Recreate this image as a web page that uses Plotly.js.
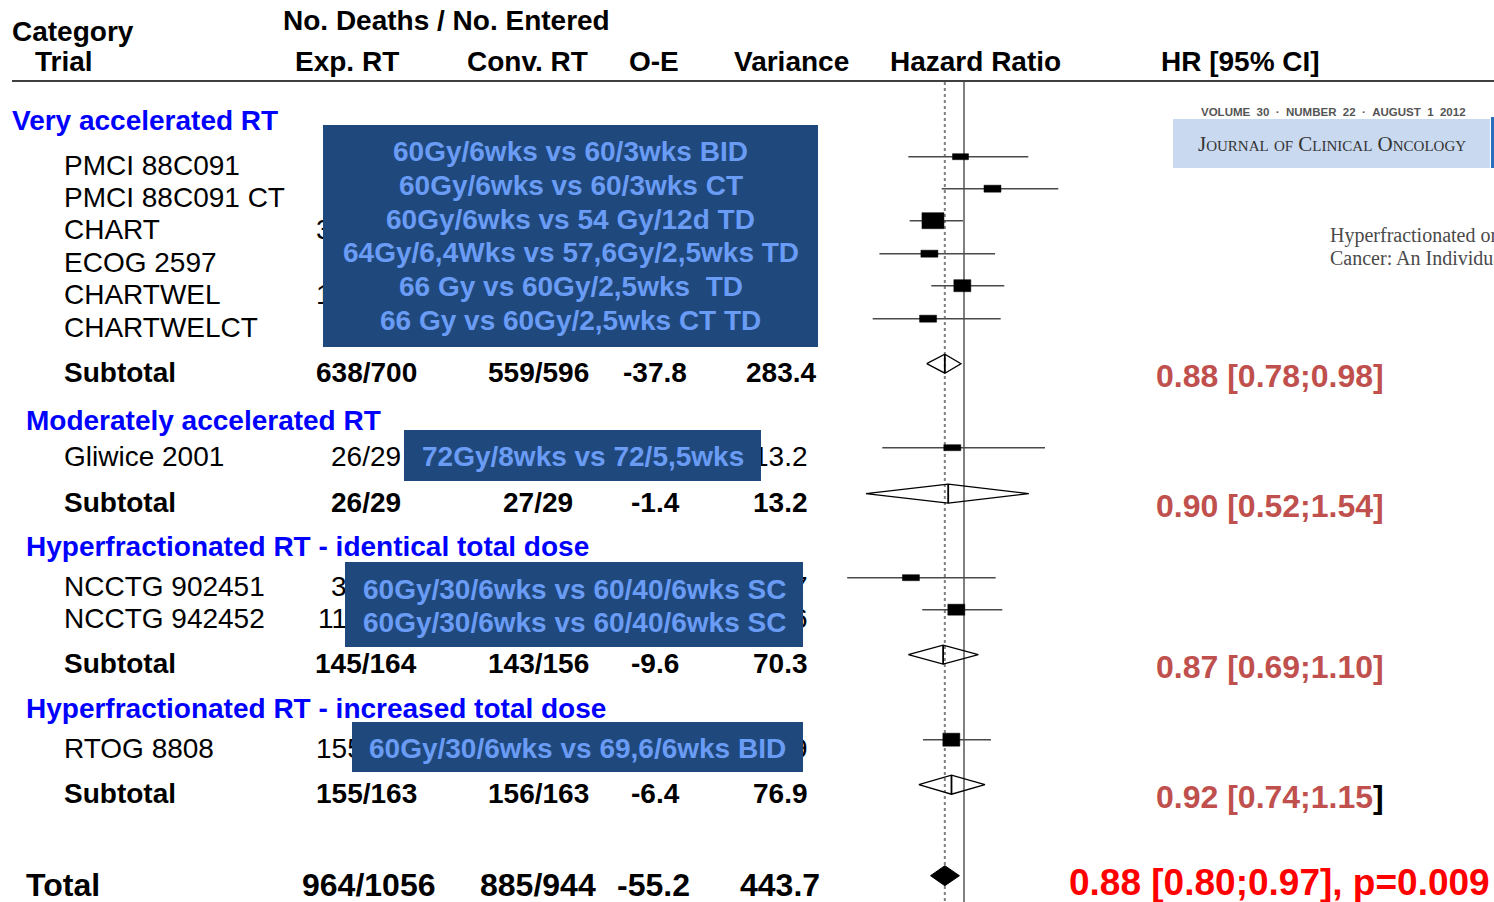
<!DOCTYPE html>
<html>
<head>
<meta charset="utf-8">
<script src="https://cdn.plot.ly/plotly-3.0.1.min.js"></script>
<style>
  html, body { margin: 0; padding: 0; background: #ffffff; overflow: hidden; }
  #chart { width: 1494px; height: 902px; }
</style>
</head>
<body>
<div id="chart"></div>
<script>
// ---------------- data ----------------
const trialNames = ["PMCI 88C091", "PMCI 88C091 CT", "CHART", "ECOG 2597", "CHARTWEL", "CHARTWELCT",
                    "Gliwice 2001", "NCCTG 902451", "NCCTG 942452", "RTOG 8808"];
const trialGroup = [0, 0, 0, 0, 0, 0, 1, 2, 2, 3];
const trialExp   = ["24/27", "25/28", "310/338", "54/60", "155/167", "70/80", "26/29", "34/41", "111/123", "155/163"];
const trialConv  = ["24/26", "25/27", "210/225", "53/59", "170/180", "77/79", "27/29", "32/38", "111/118", "156/163"];
const trialOE    = ["-0.4", "4.9", "-27.6", "-5.7", "-3.6", "-5.4", "-1.4", "-4.1", "-5.5", "-6.4"];
const trialVar   = ["24.3", "25.1", "121.6", "25.6", "65.4", "21.4", "13.2", "14.7", "55.6", "76.9"];
const trialHR    = [0.977, 1.209, 0.813, 0.794, 0.989, 0.787, 0.925, 0.702, 0.950, 0.919];
const trialLo    = [0.690, 0.862, 0.696, 0.569, 0.804, 0.544, 0.580, 0.459, 0.757, 0.761];
const trialHi    = [1.535, 1.875, 0.993, 1.230, 1.308, 1.277, 1.716, 1.235, 1.291, 1.197];

const groupNames = ["Very accelerated RT", "Moderately accelerated RT",
                    "Hyperfractionated RT - identical total dose", "Hyperfractionated RT - increased total dose"];
const groupExp  = ["638/700", "26/29", "145/164", "155/163"];
const groupConv = ["559/596", "27/29", "143/156", "156/163"];
const groupOE   = ["-37.8", "-1.4", "-9.6", "-6.4"];
const groupVar  = ["283.4", "13.2", "70.3", "76.9"];
const groupHR   = [0.88, 0.90, 0.87, 0.92];
const groupLo   = [0.78, 0.52, 0.69, 0.74];
const groupHi   = [0.98, 1.54, 1.10, 1.15];

const totalExp = "964/1056", totalConv = "885/944", totalOE = "-55.2", totalVar = "443.7";
const totalHR = 0.88, totalLo = 0.80, totalHi = 0.97, totalP = "0.009";

// fractionation schedules compared in each group
const schedules = [
  ["60Gy/6wks vs 60/3wks BID", "60Gy/6wks vs 60/3wks CT", "60Gy/6wks vs 54 Gy/12d TD",
   "64Gy/6,4Wks vs 57,6Gy/2,5wks TD", "66 Gy vs 60Gy/2,5wks  TD", "66 Gy vs 60Gy/2,5wks CT TD"],
  ["72Gy/8wks vs 72/5,5wks"],
  ["60Gy/30/6wks vs 60/40/6wks SC", "60Gy/30/6wks vs 60/40/6wks SC"],
  ["60Gy/30/6wks vs 69,6/6wks BID"]
];

// ---------------- layout geometry (pixels) ----------------
const W = 1494, H = 902;
const FONT = '"Liberation Sans", Arial, Helvetica, sans-serif';
const SERIF = '"Liberation Serif", "Times New Roman", serif';
const PX_PER_LN = 150, HR1_PX = 964, FOREST_L = 840, FOREST_R = 1100;
const xRange = [(FOREST_L - HR1_PX) / PX_PER_LN / Math.LN10, (FOREST_R - HR1_PX) / PX_PER_LN / Math.LN10];

const groupHeadY = [120, 420, 546, 708];
const groupHeadX = [12, 26, 26, 26];
const trialTextY = [165, 197, 229, 262, 294, 327, 456, 586, 618, 748];
const subTextY   = [372, 502, 663, 793];
const totalTextY = 885;
const MARK_SHIFT = 8.3;           // marks sit slightly above the text centre line
const DH = 9.5;                   // diamond half height
const boxPx = [[16, 6], [17, 7], [22, 16], [17, 7], [17, 12], [17, 7], [17, 6], [17, 6], [17, 11], [17, 13]];
const COL = { exp: 366, conv: 538, oe: 655, vari: 781 };
const overlayBoxes = [
  { x0: 323, x1: 818, y0: 125, y1: 347, lineY: [151, 185, 219, 252, 286, 320] },
  { x0: 404, x1: 761, y0: 430, y1: 481, lineY: [456] },
  { x0: 345, x1: 803, y0: 562, y1: 647, lineY: [589, 622] },
  { x0: 352, x1: 803, y0: 722, y1: 772, lineY: [748] }
];

// ---------------- traces ----------------
const traces = [];
const line = (x, y, color, width, dash) => ({
  x, y, type: 'scatter', mode: 'lines', hoverinfo: 'skip', showlegend: false,
  line: { color, width, dash: dash || 'solid' }
});

// no-effect line and overall effect line
traces.push(line([1, 1], [82, H], '#808080', 2));
traces.push(line([totalHR, totalHR], [82, H], '#808080', 2, '3px,3px'));

// confidence intervals of individual trials
const ciX = [], ciY = [];
trialNames.forEach((t, i) => {
  const y = trialTextY[i] - MARK_SHIFT;
  ciX.push(trialLo[i], trialHi[i], null);
  ciY.push(y, y, null);
});
traces.push(line(ciX, ciY, '#4a4a4a', 1.4));

// trial weight boxes, centred on each hazard ratio (half width given in screen pixels)
trialNames.forEach((t, i) => {
  const y = trialTextY[i] - MARK_SHIFT;
  const [bw, bh] = boxPx[i];
  const f = Math.exp(bw / 2 / PX_PER_LN);
  const a = trialHR[i] / f, b = trialHR[i] * f;
  const r = line([a, b, b, a, a], [y - bh / 2, y - bh / 2, y + bh / 2, y + bh / 2, y - bh / 2], '#000000', 0.5);
  r.fill = 'toself';
  r.fillcolor = '#000000';
  traces.push(r);
});

// subtotal diamonds (open)
groupNames.forEach((g, i) => {
  const y = subTextY[i] - MARK_SHIFT;
  traces.push(line([groupLo[i], groupHR[i], groupHi[i], groupHR[i], groupLo[i]],
                   [y, y - DH, y, y + DH, y], '#000000', 1.3));
  traces.push(line([groupHR[i], groupHR[i]], [y - DH, y + DH], '#000000', 1.8));
});

// overall diamond (filled)
{
  const y = totalTextY - MARK_SHIFT - 1;
  const t = line([totalLo, totalHR, totalHi, totalHR, totalLo], [y, y - 10, y, y + 10, y], '#000000', 1);
  t.fill = 'toself';
  t.fillcolor = '#000000';
  traces.push(t);
}

// ---------------- shapes ----------------
const shapes = [];
// header rule
shapes.push({ type: 'line', xref: 'paper', yref: 'y', x0: 12 / W, x1: 1, y0: 81, y1: 81,
              line: { color: '#000000', width: 1.5 } });
// journal banner
shapes.push({ type: 'rect', xref: 'paper', yref: 'y', x0: 1173 / W, x1: 1490 / W, y0: 119, y1: 168,
              fillcolor: '#c9d9ef', line: { width: 0 }, layer: 'below' });
shapes.push({ type: 'rect', xref: 'paper', yref: 'y', x0: 1491 / W, x1: 1, y0: 117, y1: 168,
              fillcolor: '#2a6ebb', line: { width: 0 }, layer: 'below' });

// ---------------- text ----------------
const ann = [];
function txt(x, y, text, o = {}) {
  ann.push({
    xref: 'paper', yref: 'y', x: x / W, y, text, showarrow: false,
    xanchor: o.anchor || 'left', yanchor: 'middle', borderpad: 0, borderwidth: 0,
    font: { family: o.family || FONT, size: o.size || 28, color: o.color || '#000000',
            weight: o.weight || 'normal', variant: o.variant || 'normal' }
  });
}
const B = { weight: 'bold' };

// column headers
txt(12, 31, 'Category', B);
txt(35, 61, 'Trial', B);
txt(446, 20, 'No. Deaths / No. Entered', { weight: 'bold', anchor: 'center' });
txt(347, 61, 'Exp. RT', { weight: 'bold', anchor: 'center' });
txt(527, 61, 'Conv. RT', { weight: 'bold', anchor: 'center' });
txt(654, 61, 'O-E', { weight: 'bold', anchor: 'center' });
txt(791, 61, 'Variance', { weight: 'bold', anchor: 'center' });
txt(975, 61, 'Hazard Ratio', { weight: 'bold', anchor: 'center' });
txt(1240, 61, 'HR [95% CI]', { weight: 'bold', anchor: 'center' });

// group headers
groupNames.forEach((g, i) => txt(groupHeadX[i], groupHeadY[i], g, { weight: 'bold', color: '#0000ff' }));

// trial rows
trialNames.forEach((t, i) => {
  const y = trialTextY[i];
  txt(64, y, t);
  txt(COL.exp, y, trialExp[i], { anchor: 'center' });
  txt(COL.conv, y, trialConv[i], { anchor: 'center' });
  txt(COL.oe, y, trialOE[i], { anchor: 'center' });
  txt(COL.vari, y, trialVar[i], { anchor: 'center' });
});

// subtotal rows
const hrLabel = (hr, lo, hi) => hr.toFixed(2) + ' [' + lo.toFixed(2) + ';' + hi.toFixed(2) + ']';
groupNames.forEach((g, i) => {
  const y = subTextY[i];
  txt(64, y, 'Subtotal', B);
  txt(COL.exp, y, groupExp[i], { weight: 'bold', anchor: 'center' });
  txt(COL.conv, y, groupConv[i], { weight: 'bold', anchor: 'center' });
  txt(COL.oe, y, groupOE[i], { weight: 'bold', anchor: 'center' });
  txt(COL.vari, y, groupVar[i], { weight: 'bold', anchor: 'center' });
  let lbl = hrLabel(groupHR[i], groupLo[i], groupHi[i]);
  if (i === 3) lbl = lbl.slice(0, -1) + '<span style="color:#000000">]</span>';
  txt(1384, y + 4, lbl, { weight: 'bold', anchor: 'right', size: 32, color: '#c0504d' });
});

// total row
txt(26, totalTextY, 'Total', { weight: 'bold', size: 32 });
txt(368, totalTextY, totalExp, { weight: 'bold', size: 32, anchor: 'center' });
txt(538, totalTextY, totalConv, { weight: 'bold', size: 32, anchor: 'center' });
txt(653, totalTextY, totalOE, { weight: 'bold', size: 32, anchor: 'center' });
txt(780, totalTextY, totalVar, { weight: 'bold', size: 32, anchor: 'center' });
txt(1490, totalTextY - 3, hrLabel(totalHR, totalLo, totalHi) + ', p=' + totalP,
    { weight: 'bold', size: 37, anchor: 'right', color: '#ff0000' });

// journal banner text
txt(1333, 112, 'VOLUME&nbsp;&nbsp;30&nbsp;&nbsp;·&nbsp;&nbsp;NUMBER&nbsp;&nbsp;22&nbsp;&nbsp;·&nbsp;&nbsp;AUGUST&nbsp;&nbsp;1&nbsp;&nbsp;2012',
    { weight: 'bold', size: 11.5, anchor: 'center', color: '#555555' });
txt(1332, 144, 'Journal of Clinical Oncology', { family: SERIF, size: 21, anchor: 'center', color: '#333333', variant: 'small-caps' });
txt(1330, 235, 'Hyperfractionated or', { family: SERIF, size: 20, color: '#4a4a4a' });
txt(1330, 258, 'Cancer: An Individual', { family: SERIF, size: 20, color: '#4a4a4a' });

// schedule panels over the table
overlayBoxes.forEach((b, i) => {
  ann.push({
    xref: 'paper', yref: 'y', x: b.x0 / W, y: b.y0, xanchor: 'left', yanchor: 'top',
    text: ' ', showarrow: false, width: b.x1 - b.x0, height: b.y1 - b.y0,
    bgcolor: '#1f497d', borderpad: 0, borderwidth: 0
  });
  const cx = (b.x0 + b.x1) / 2;
  schedules[i].forEach((s, j) => txt(cx, b.lineY[j], s.replace(/  /g, ' &nbsp;'),
    { weight: 'bold', anchor: 'center', color: '#6a9cf5' }));
});

const layout = {
  width: W, height: H, autosize: false,
  margin: { l: 0, r: 0, t: 0, b: 0, pad: 0 },
  paper_bgcolor: '#ffffff', plot_bgcolor: 'rgba(0,0,0,0)',
  showlegend: false, hovermode: false,
  xaxis: { type: 'log', domain: [FOREST_L / W, FOREST_R / W], range: xRange, visible: false, fixedrange: true },
  yaxis: { domain: [0, 1], range: [H, 0], visible: false, fixedrange: true },
  shapes, annotations: ann
};

Plotly.newPlot('chart', traces, layout, { displayModeBar: false, staticPlot: true });
</script>
</body>
</html>
